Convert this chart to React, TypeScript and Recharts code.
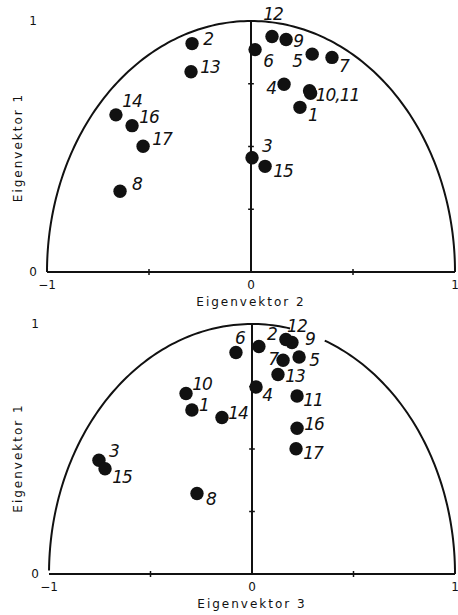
import { ScatterChart, Scatter, XAxis, YAxis, ReferenceLine } from 'recharts'

// Variable numbers and their loadings on the first three eigenvectors
const variables = [1, 2, 3, 4, 5, 6, 7, 8, 9, 10, 11, 12, 13, 14, 15, 16, 17]
const eigenvektor1 = [0.656, 0.91, 0.455, 0.748, 0.868, 0.886, 0.855, 0.322, 0.926, 0.722, 0.712, 0.938, 0.798, 0.626, 0.421, 0.583, 0.501]
const eigenvektor2 = [0.24, -0.289, 0.005, 0.162, 0.3, 0.02, 0.397, -0.642, 0.172, 0.287, 0.292, 0.103, -0.294, -0.662, 0.069, -0.583, -0.529]
const eigenvektor3 = [-0.296, 0.034, -0.754, 0.02, 0.232, -0.079, 0.153, -0.271, 0.197, -0.325, 0.222, 0.167, 0.128, -0.148, -0.724, 0.222, 0.217]

const xTicks = [-1, 0, 1]
const yTicks = [0, 1]
const xMinorTicks = [-0.5, 0.5]
const yMinorTicks = [0.25, 0.5, 0.75]

// label offset from the dot centre [dx, dy, optional text]
type Placement = Record<number, [number, number, string?]>

const placementTop: Placement = {
  1: [13, 8], 2: [16, -5], 3: [15, -12], 4: [-13, 4], 5: [-15, 7], 6: [13, 11],
  7: [12, 9], 8: [17, -7], 9: [12, 1], 10: [28, 4, '10,11'], 12: [1, -23],
  13: [19, -5], 14: [16, -14], 15: [18, 5], 16: [17, -9], 17: [19, -7],
}

const placementBottom: Placement = {
  1: [12, -5], 2: [13, -13], 3: [15, -9], 4: [11, 8], 5: [15, 3], 6: [4, -15],
  7: [-10, -1], 8: [14, 5], 9: [18, -4], 10: [16, -10], 11: [16, 4], 12: [11, -14],
  13: [17, 1], 14: [16, -5], 15: [17, 8], 16: [17, -4], 17: [17, 4],
}

// unit circle boundary between two angles (degrees)
const arc = (from: number, to: number) => {
  const pts: { x: number; y: number }[] = []
  for (let a = from; a <= to + 1e-9; a += 1) {
    const r = (a * Math.PI) / 180
    pts.push({ x: Math.cos(r), y: Math.sin(r) })
  }
  return pts
}

const INK = '#111'
const tickStyle = { fontSize: 12, fill: INK, fontFamily: 'DejaVu Sans' }

const pointShape = (placement: Placement) => (props: any) => {
  const { cx, cy, payload } = props
  const p = placement[payload.nr]
  return (
    <g>
      <circle cx={cx} cy={cy} r={6.7} fill={INK} />
      {p && (
        <text
          x={cx + p[0]}
          y={cy + p[1]}
          textAnchor="middle"
          dominantBaseline="central"
          fontSize={17}
          fontStyle="italic"
          fontFamily="DejaVu Sans"
          letterSpacing={-1}
          fill={INK}
        >
          {p[2] ?? payload.nr}
        </text>
      )}
    </g>
  )
}

const xTitle = (text: string) => (props: any) => {
  const { x, y, width } = props.viewBox
  return (
    <text x={x + width / 2} y={y + 30} textAnchor="middle" dominantBaseline="central"
      fontSize={12} letterSpacing={2} fontFamily="DejaVu Sans" fill={INK}>
      {text}
    </text>
  )
}

const yTitle = (text: string, shift: number) => (props: any) => {
  const { x, y, height } = props.viewBox
  const cx = x + 18
  const cy = y + height / 2 + shift
  return (
    <text x={cx} y={cy} transform={`rotate(-90, ${cx}, ${cy})`} textAnchor="middle"
      dominantBaseline="central" fontSize={12} letterSpacing={2} fontFamily="DejaVu Sans" fill={INK}>
      {text}
    </text>
  )
}

interface PanelProps {
  xs: number[]
  title: string
  placement: Placement
  arcs: { x: number; y: number }[][]
  height: number
  marginTop: number
  marginBottom: number
  yAxisWidth: number
  yTitleShift: number
}

function Panel({ xs, title, placement, arcs, height, marginTop, marginBottom, yAxisWidth, yTitleShift }: PanelProps) {
  const points = variables.map((nr, i) => ({ nr, x: xs[i], y: eigenvektor1[i] }))
  return (
    <ScatterChart width={458} height={height} margin={{ top: marginTop, right: 3, bottom: marginBottom, left: 0 }}>
      <XAxis
        type="number"
        dataKey="x"
        domain={[-1, 1]}
        ticks={xTicks}
        tickFormatter={(v: number) => (v < 0 ? `\u2212${Math.abs(v)}` : `${v}`)}
        tick={tickStyle}
        tickLine={false}
        axisLine={{ stroke: INK, strokeWidth: 2 }}
        height={36}
        label={xTitle(title)}
      />
      <YAxis
        type="number"
        dataKey="y"
        domain={[0, 1]}
        ticks={yTicks}
        tick={tickStyle}
        tickLine={false}
        tickMargin={4}
        axisLine={false}
        width={yAxisWidth}
        label={yTitle('Eigenvektor 1', yTitleShift)}
      />
      <ReferenceLine x={0} stroke={INK} strokeWidth={2} />
      {yMinorTicks.map((t) => (
        <ReferenceLine key={`y${t}`} segment={[{ x: -0.014, y: t }, { x: 0.014, y: t }]} stroke={INK} strokeWidth={1.5} ifOverflow="visible" />
      ))}
      {xMinorTicks.map((t) => (
        <ReferenceLine key={`x${t}`} segment={[{ x: t, y: -0.012 }, { x: t, y: 0.012 }]} stroke={INK} strokeWidth={1.5} ifOverflow="visible" />
      ))}
      {arcs.map((a, i) => (
        <Scatter
          key={`arc${i}`}
          data={a}
          line={{ stroke: INK, strokeWidth: 2 }}
          lineType="joint"
          shape={() => <g />}
          isAnimationActive={false}
        />
      ))}
      <Scatter data={points} shape={pointShape(placement)} isAnimationActive={false} />
    </ScatterChart>
  )
}

export default function App() {
  return (
    <div style={{ position: 'absolute', left: 0, top: 0, width: 458, height: 615, overflow: 'hidden', background: '#fff' }}>
      <div style={{ position: 'absolute', left: 0, top: 0 }}>
        <Panel
          xs={eigenvektor2}
          title="Eigenvektor 2"
          placement={placementTop}
          arcs={[arc(0, 180)]}
          height={310}
          marginTop={21}
          marginBottom={2}
          yAxisWidth={47}
          yTitleShift={1}
        />
      </div>
      <div style={{ position: 'absolute', left: 0, top: 310 }}>
        <Panel
          xs={eigenvektor3}
          title="Eigenvektor 3"
          placement={placementBottom}
          arcs={[arc(0, 69.8), arc(79.2, 180)]}
          height={305}
          marginTop={14}
          marginBottom={5}
          yAxisWidth={49}
          yTitleShift={9}
        />
      </div>
    </div>
  )
}
